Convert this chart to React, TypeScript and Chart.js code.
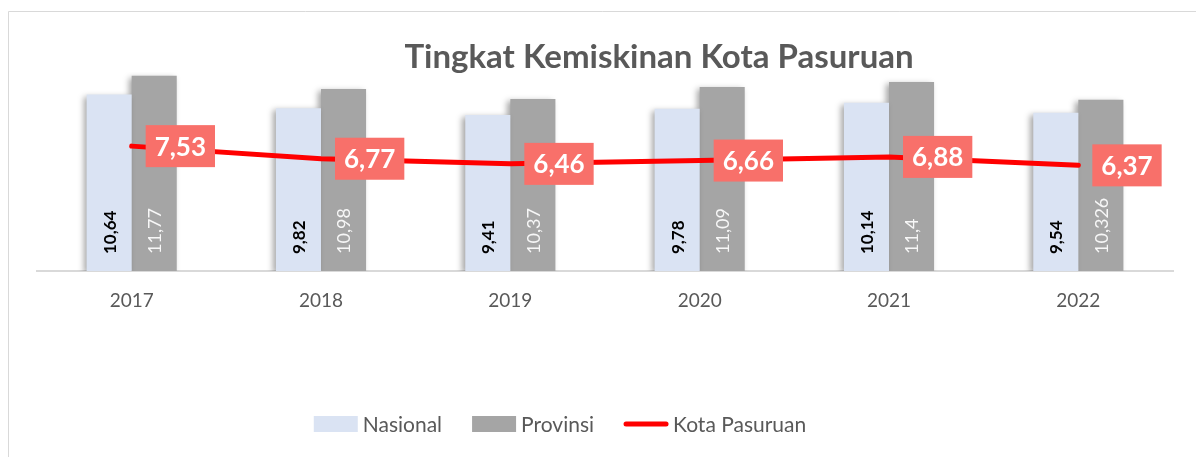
import React, { useEffect, useRef } from "react";
import { Chart, registerables } from "chart.js";

Chart.register(...registerables);

const categories = ["2017", "2018", "2019", "2020", "2021", "2022"];
const nasional = [10.64, 9.82, 9.41, 9.78, 10.14, 9.54];
const provinsi = [11.77, 10.98, 10.37, 11.09, 11.4, 10.326];
const kotaPasuruan = [7.53, 6.77, 6.46, 6.66, 6.88, 6.37];

const TITLE = "Tingkat Kemiskinan Kota Pasuruan";
const FONT = "Lato, 'Open Sans', sans-serif";
const C_NAS = "#DAE3F3";
const C_PROV = "#A5A5A5";
const C_LINE = "#FF0000";
const C_LABEL_BOX = "#F8706A";
const C_TEXT = "#595959";

const fmt = (v: number) => String(v).replace(".", ",");

const decorPlugin = {
  id: "decor",
  beforeDraw(chart: any) {
    const ctx = chart.ctx;
    ctx.save();
    ctx.fillStyle = "#ffffff";
    ctx.fillRect(0, 0, chart.width, chart.height);
    ctx.strokeStyle = "#D9D9D9";
    ctx.lineWidth = 1;
    ctx.beginPath();
    ctx.moveTo(8.5, chart.height);
    ctx.lineTo(8.5, 11.5);
    ctx.lineTo(chart.width, 11.5);
    ctx.stroke();
    ctx.restore();
  },
  beforeDatasetDraw(chart: any, args: any) {
    const ds = chart.data.datasets[args.index];
    if (ds.type === "line") return;
    const ctx = chart.ctx;
    ctx.save();
    ctx.shadowColor = "rgba(0,0,0,0.35)";
    ctx.shadowBlur = 6;
    ctx.shadowOffsetX = -3;
    ctx.shadowOffsetY = 2;
  },
  afterDatasetDraw(chart: any, args: any) {
    const ds = chart.data.datasets[args.index];
    if (ds.type === "line") return;
    chart.ctx.restore();
  },
  afterDatasetsDraw(chart: any) {
    const ctx = chart.ctx;
    const base = chart.chartArea.bottom;
    // bar labels (rotated)
    [0, 1].forEach((di) => {
      const meta = chart.getDatasetMeta(di);
      const data = chart.data.datasets[di].data as number[];
      meta.data.forEach((el: any, i: number) => {
        ctx.save();
        ctx.translate(el.x, base - 17);
        ctx.rotate(-Math.PI / 2);
        ctx.textAlign = "left";
        ctx.textBaseline = "middle";
        ctx.font = (di === 0 ? "bold 17px " : "18px ") + FONT;
        ctx.fillStyle = di === 0 ? "#000000" : "#F7F7F7";
        ctx.fillText(fmt(data[i]), 0, 1);
        ctx.restore();
      });
    });
    // line labels
    const lmeta = chart.getDatasetMeta(2);
    const ldata = chart.data.datasets[2].data as number[];
    lmeta.data.forEach((el: any, i: number) => {
      const txt = fmt(ldata[i]);
      ctx.save();
      ctx.font = "bold 26px " + FONT;
      const w = ctx.measureText(txt).width + 18;
      const h = 42;
      const bx = el.x + 14;
      const by = el.y - h / 2;
      ctx.fillStyle = C_LABEL_BOX;
      ctx.fillRect(bx, by, w, h);
      ctx.fillStyle = "#FFFFFF";
      ctx.textAlign = "center";
      ctx.textBaseline = "middle";
      ctx.fillText(txt, bx + w / 2, el.y + 1);
      ctx.restore();
    });
  },
  afterDraw(chart: any) {
    const ctx = chart.ctx;
    ctx.save();
    // title
    ctx.font = "bold 33px " + FONT;
    ctx.fillStyle = C_TEXT;
    ctx.textAlign = "center";
    ctx.textBaseline = "alphabetic";
    ctx.fillText(TITLE, 659, 68);

    // legend
    ctx.font = "21px " + FONT;
    ctx.textBaseline = "middle";
    ctx.textAlign = "left";
    const items = chart.data.datasets.map((d: any) => ({
      label: d.label,
      type: d.type,
      color: d.type === "line" ? d.borderColor : d.backgroundColor,
    }));
    const swW = 44;
    const gapSw = 5;
    const gapItem = 30;
    const widths = items.map((it: any) => swW + gapSw + ctx.measureText(it.label).width);
    const total = widths.reduce((a: number, b: number) => a + b, 0) + gapItem * (items.length - 1);
    let x = 560 - total / 2;
    const cy = 424;
    items.forEach((it: any, i: number) => {
      if (it.type === "line") {
        ctx.strokeStyle = it.color;
        ctx.lineWidth = 5;
        ctx.lineCap = "round";
        ctx.beginPath();
        ctx.moveTo(x + 2, cy);
        ctx.lineTo(x + swW - 2, cy);
        ctx.stroke();
      } else {
        ctx.fillStyle = it.color;
        ctx.fillRect(x, cy - 8, swW, 16);
      }
      ctx.fillStyle = C_TEXT;
      ctx.fillText(it.label, x + swW + gapSw, cy + 1);
      x += widths[i] + gapItem;
    });
    ctx.restore();
  },
};

export default function App() {
  const ref = useRef<HTMLCanvasElement | null>(null);
  useEffect(() => {
    if (!ref.current) return;
    const chart = new Chart(ref.current, {
      type: "bar",
      data: {
        labels: categories,
        datasets: [
          {
            type: "bar",
            label: "Nasional",
            data: nasional,
            backgroundColor: C_NAS,
            categoryPercentage: 0.476,
            barPercentage: 1.0,
            order: 1,
          } as any,
          {
            type: "bar",
            label: "Provinsi",
            data: provinsi,
            backgroundColor: C_PROV,
            categoryPercentage: 0.476,
            barPercentage: 1.0,
            order: 1,
          } as any,
          {
            type: "line",
            label: "Kota Pasuruan",
            data: kotaPasuruan,
            borderColor: C_LINE,
            backgroundColor: C_LINE,
            borderWidth: 5,
            borderCapStyle: "round",
            pointRadius: 0,
            tension: 0,
            fill: false,
            order: 0,
          } as any,
        ],
      },
      options: {
        animation: false,
        responsive: false,
        maintainAspectRatio: false,
        layout: { padding: { left: 37, right: 23, top: 72, bottom: 0 } },
        plugins: {
          legend: { display: false },
          title: { display: false },
          tooltip: { enabled: false },
        },
        scales: {
          x: {
            grid: { display: false },
            border: { display: true, color: "#D9D9D9", width: 2 },
            ticks: {
              color: C_TEXT,
              font: { family: FONT, size: 19 },
              padding: 10,
            },
            afterFit: (scale: any) => {
              scale.height = 186;
            },
          },
          y: {
            display: false,
            min: 0,
            max: 12,
          },
        },
      },
      plugins: [decorPlugin],
    });
    return () => chart.destroy();
  }, []);
  return (
    <div style={{ position: "absolute", left: 0, top: 0, width: 1196, height: 457 }}>
      <canvas ref={ref} width={1196} height={457} style={{ display: "block" }} />
    </div>
  );
}
